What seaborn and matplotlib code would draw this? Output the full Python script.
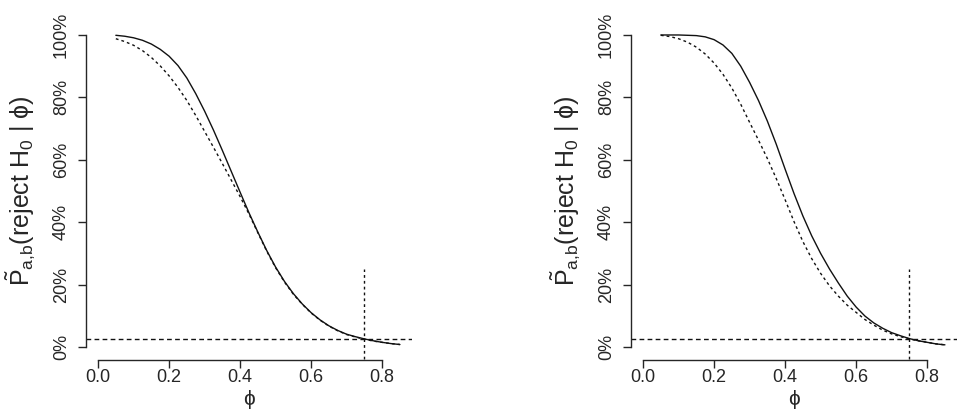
import numpy as np
import pandas as pd
import matplotlib
matplotlib.use("Agg")
import matplotlib.pyplot as plt
import seaborn as sns

# power curves, phi from 0.05 to 0.85 in steps of 0.025
phi = [0.050, 0.075, 0.100, 0.125, 0.150, 0.175, 0.200, 0.225, 0.250, 0.275,
       0.300, 0.325, 0.350, 0.375, 0.400, 0.425, 0.450, 0.475, 0.500, 0.525,
       0.550, 0.575, 0.600, 0.625, 0.650, 0.675, 0.700, 0.725, 0.750, 0.775,
       0.800, 0.825, 0.850]

left_solid = [0.999, 0.996, 0.991, 0.983, 0.971, 0.954, 0.932, 0.902, 0.862, 0.812,
              0.756, 0.695, 0.630, 0.563, 0.496, 0.430, 0.368, 0.309, 0.256, 0.210,
              0.171, 0.138, 0.110, 0.087, 0.068, 0.053, 0.041, 0.033, 0.026, 0.020,
              0.015, 0.011, 0.008]
left_dashed = [0.988, 0.979, 0.967, 0.950, 0.928, 0.901, 0.869, 0.832, 0.790, 0.742,
               0.691, 0.640, 0.588, 0.535, 0.482, 0.426, 0.366, 0.307, 0.254, 0.208,
               0.169, 0.137, 0.109, 0.086, 0.067, 0.052, 0.040, 0.032, 0.025, 0.019,
               0.015, 0.011, 0.008]

right_solid = [1.000, 1.000, 1.000, 0.999, 0.998, 0.994, 0.985, 0.968, 0.941, 0.900,
               0.848, 0.790, 0.724, 0.650, 0.570, 0.492, 0.420, 0.356, 0.300, 0.250,
               0.205, 0.163, 0.128, 0.099, 0.077, 0.060, 0.046, 0.036, 0.027, 0.020,
               0.015, 0.010, 0.007]
right_dashed = [0.999, 0.995, 0.988, 0.977, 0.961, 0.939, 0.910, 0.874, 0.830, 0.778,
                0.720, 0.663, 0.604, 0.540, 0.472, 0.402, 0.338, 0.283, 0.236, 0.196,
                0.163, 0.134, 0.111, 0.088, 0.070, 0.054, 0.042, 0.033, 0.026, 0.020,
                0.015, 0.010, 0.007]

alpha_level = 0.025
phi_cut = 0.75
vline_top = 0.25

x_ticks = [0.0, 0.2, 0.4, 0.6, 0.8]
x_ticklabels = ["0.0", "0.2", "0.4", "0.6", "0.8"]
y_ticks = [0.0, 0.2, 0.4, 0.6, 0.8, 1.0]
y_ticklabels = ["0%", "20%", "40%", "60%", "80%", "100%"]

sns.set_style("white")
plt.rcParams["font.family"] = ["Liberation Sans", "DejaVu Sans"]
plt.rcParams["mathtext.fontset"] = "custom"
plt.rcParams["mathtext.rm"] = "Liberation Sans"
plt.rcParams["mathtext.it"] = "Liberation Sans:italic"
plt.rcParams["mathtext.bf"] = "Liberation Sans:bold"

W, H = 963, 415
fig = plt.figure(figsize=(W / 100, H / 100), dpi=100)

panels = [
    (86, left_solid, left_dashed),
    (631, right_solid, right_dashed),
]

ink = "#262626"
dots = (0, (2.0, 2.2))
dashes = (0, (3.4, 2.4))
for left_px, solid, dashed in panels:
    ax = fig.add_axes([left_px / W, (H - 359.5) / H, 326 / W, 337 / H])
    df = pd.DataFrame({"phi": phi, "solid": solid, "dashed": dashed})

    sns.lineplot(data=df, x="phi", y="solid", ax=ax, color="#111111", lw=1.0)
    sns.lineplot(data=df, x="phi", y="dashed", ax=ax, color="#111111", lw=1.0,
                 linestyle=dots)
    ax.axhline(alpha_level, color="#111111", lw=1.0, linestyle=dashes)
    ax.vlines(phi_cut, -0.04, vline_top, color="#111111", lw=1.0, linestyle=dots)

    ax.set_xlim(-0.034, 0.884)
    ax.set_ylim(-0.04, 1.04)

    for side in ["top", "right"]:
        ax.spines[side].set_visible(False)
    ax.spines["left"].set_bounds(0, 1)
    ax.spines["bottom"].set_bounds(0, 0.8)
    for side in ["left", "bottom"]:
        ax.spines[side].set_color(ink)
        ax.spines[side].set_linewidth(1.0)

    ax.set_xticks(x_ticks)
    ax.set_xticklabels(x_ticklabels, fontsize=13, color=ink)
    ax.set_yticks(y_ticks)
    ax.set_yticklabels(y_ticklabels, fontsize=13, color=ink, rotation=90, va="center")
    ax.tick_params(axis="both", direction="out", length=5.5, width=1.0, color=ink,
                   left=True, bottom=True)
    ax.tick_params(axis="x", pad=1.5)
    ax.tick_params(axis="y", pad=6)

    ax.set_xlabel("ϕ", fontsize=15, color=ink)
    ax.xaxis.set_label_coords(0.5, -0.09)
    ax.set_ylabel(r"$\tilde{\mathrm{P}}_{\mathrm{a{,}b}}$(reject H$_0$ | ϕ)",
                  fontsize=18, color=ink)
    ax.yaxis.set_label_coords(-0.15, 0.5)

fig.savefig("out.png", dpi=100)
